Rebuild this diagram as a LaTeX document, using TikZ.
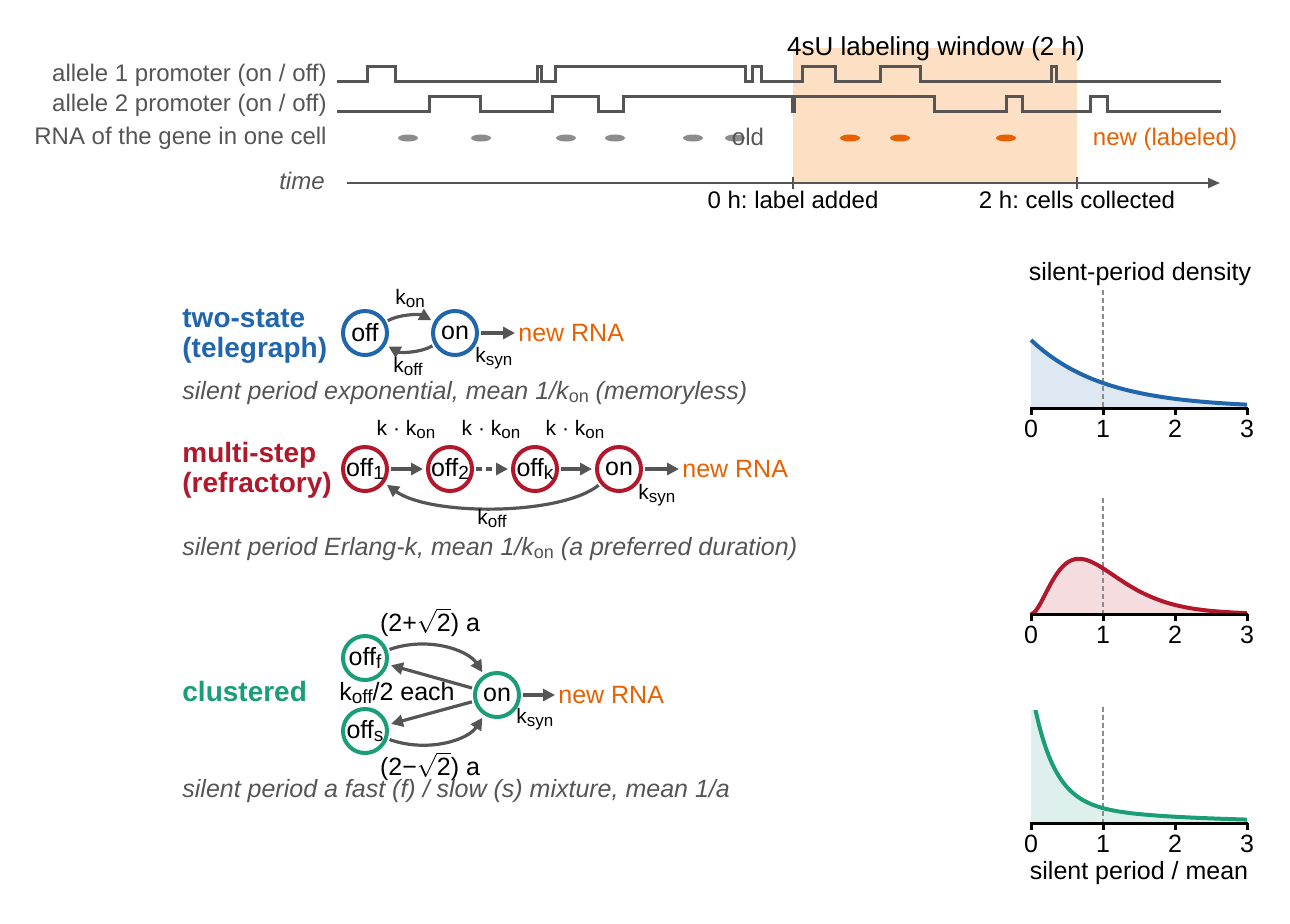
\documentclass[tikz,border=0pt]{standalone}
\usepackage{fontspec}
\setmainfont{Liberation Sans}
\usetikzlibrary{arrows.meta}
\definecolor{cblue}{HTML}{2166AC}
\definecolor{cred}{HTML}{B2182B}
\definecolor{cgreen}{HTML}{1B9E77}
\definecolor{corange}{HTML}{E66101}
\definecolor{cpeach}{HTML}{FDDFC4}
\definecolor{dgray}{HTML}{555555}
\definecolor{mgray}{HTML}{8C8C8C}
\newcommand{\mysub}[2][8.5]{\raisebox{-1.7pt}{\fontsize{#1}{#1}\selectfont #2}}
\frenchspacing
\begin{document}
\begin{tikzpicture}[x=0.5pt,y=-0.5pt,
  lab/.style={inner sep=0pt, font=\fontsize{12}{14}\selectfont},
  labb/.style={inner sep=0pt, font=\fontsize{12.5}{14}\selectfont},
  rate/.style={inner sep=0pt, font=\fontsize{10.5}{12}\selectfont},
  ttl/.style={inner sep=0pt, font=\fontsize{14}{16}\selectfont\bfseries},
  captxt/.style={inner sep=0pt, text=dgray, font=\fontsize{12.5}{14}\selectfont\itshape},
  stnode/.style={circle, draw=#1, line width=2pt, minimum size=22pt, inner sep=0pt, font=\fontsize{12.5}{14}\selectfont},
  arr/.style={draw=dgray, line width=1.6pt, -{Triangle[length=6pt,width=6pt]}, shorten >=1.5pt, shorten <=1pt},
  trace/.style={draw=dgray, line width=1.5pt},
  axl/.style={draw=black, line width=1.5pt},
  refl/.style={draw=mgray, line width=0.8pt, dash pattern=on 2.5pt off 1.5pt},
  dens/.style={line width=2pt},
  newrna/.style={inner sep=0pt, text=corange, font=\fontsize{12.5}{14}\selectfont}
]
\useasboundingbox (0,0) rectangle (1290,923);

% ---------------- top: labeling window ----------------
\fill[cpeach] (793,48) rectangle (1077,183);
\node[inner sep=0pt, font=\fontsize{13}{15}\selectfont, anchor=base] (win) at (936,55) {4sU labeling window (2 h)};

\node[lab, text=dgray, anchor=base east] (a1) at (327,81) {allele 1 promoter (on / off)};
\node[lab, text=dgray, anchor=base east] (a2) at (327,111) {allele 2 promoter (on / off)};
\node[lab, text=dgray, anchor=base east] (rn) at (327,144) {RNA of the gene in one cell};
\node[lab, text=dgray, anchor=base east, font=\fontsize{12}{14}\selectfont\itshape] (tm) at (325,189) {time};

\draw[trace] (337,81.5) -| (367,66) -| (395,81.5) -| (537,66) -| (541,81.5) -| (555,66) -| (745,81.5) -| (752,66) -| (761,81.5) -| (802,66) -| (835,81.5) -| (880,66) -| (920,81.5) -| (1051,66) -| (1056,81.5) -- (1221,81.5);
\draw[trace] (337,111.5) -| (429,96.5) -| (480,111.5) -| (552,96.5) -| (598,111.5) -| (623,96.5) -| (792,111.5) -| (794,96.5) -| (934,111.5) -| (1006,96.5) -| (1022,111.5) -| (1090,96.5) -| (1107,111.5) -- (1221,111.5);

\foreach \px in {408,481,566,615,693,735}
  \fill[mgray] (\px,138) ellipse [x radius=5pt, y radius=1.75pt];
\foreach \px in {850,900,1006}
  \fill[corange] (\px,138) ellipse [x radius=5pt, y radius=1.75pt];
\node[lab, text=dgray, anchor=base] (old) at (748,145) {old};
\node[lab, text=corange, anchor=base] (new) at (1165,145) {new (labeled)};

\coordinate (t0) at (347,183);
\coordinate (t1) at (1220,183);
\draw[dgray, line width=1pt, -{Triangle[length=6pt,width=5pt]}] (t0) -- (t1);
\coordinate (k0a) at (793,177); \coordinate (k0b) at (793,189);
\coordinate (k2a) at (1077,177); \coordinate (k2b) at (1077,189);
\draw[dgray, line width=1pt] (k0a) -- (k0b);
\draw[dgray, line width=1pt] (k2a) -- (k2b);
\node[lab, anchor=base] (l0) at (793,208) {0 h: label added};
\node[lab, anchor=base] (l2) at (1077,208) {2 h: cells collected};

% ---------------- two-state ----------------
\node[ttl, text=cblue, anchor=base west] (ts1) at (182,327) {two-state};
\node[ttl, text=cblue, anchor=base west] (ts2) at (182,357) {(telegraph)};
\node[stnode=cblue] (off) at (365,333) {off};
\node[stnode=cblue] (on) at (455,333) {on};
\draw[arr] (off) .. controls (400,314) and (420,314) .. (on);
\draw[arr] (on) .. controls (420,353) and (400,353) .. (off);
\node[newrna, anchor=west] (nA) at (518,333) {new RNA};
\draw[arr] (on) -- (nA);
\node[rate, anchor=base] (kon) at (410,304) {k\mysub{on}};
\node[rate, anchor=base] (koff) at (408,372) {k\mysub{off}};
\node[rate, anchor=base west] (ksA) at (475,362) {k\mysub{syn}};
\node[captxt, anchor=base west] (capA) at (182,399) {silent period exponential, mean 1/k\mysub[9]{\upshape on} (memoryless)};

% ---------------- multi-step ----------------
\node[ttl, text=cred, anchor=base west] (ms1) at (182,462) {multi-step};
\node[ttl, text=cred, anchor=base west] (ms2) at (182,492) {(refractory)};
\node[stnode=cred] (o1) at (365,469) {off\mysub[9.5]{1}};
\node[stnode=cred] (o2) at (450,469) {off\mysub[9.5]{2}};
\node[stnode=cred] (ok) at (535,469) {off\mysub[9.5]{k}};
\node[stnode=cred] (onB) at (619,469) {on};
\draw[arr] (o1) -- (o2);
\draw[arr, dash pattern=on 3pt off 2pt] (o2) -- (ok);
\draw[arr] (ok) -- (onB);
\node[newrna, anchor=west] (nB) at (682,469) {new RNA};
\draw[arr] (onB) -- (nB);
\draw[arr] (onB) .. controls (560,516) and (430,516) .. (o1);
\node[rate, anchor=base] (kk1) at (406,435) {k · k\mysub{on}};
\node[rate, anchor=base] (kk2) at (491,435) {k · k\mysub{on}};
\node[rate, anchor=base] (kk3) at (575,435) {k · k\mysub{on}};
\node[rate, anchor=base west] (ksB) at (638,499) {k\mysub{syn}};
\node[rate, anchor=base] (koffB) at (492,524) {k\mysub{off}};
\node[captxt, anchor=base west] (capB) at (182,555) {silent period Erlang-k, mean 1/k\mysub[9]{\upshape on} (a preferred duration)};

% ---------------- clustered ----------------
\node[ttl, text=cgreen, anchor=base west] (cl) at (182,701) {clustered};
\node[stnode=cgreen] (of) at (365,658) {off\mysub[9.5]{f}};
\node[stnode=cgreen] (os) at (365,731) {off\mysub[9.5]{s}};
\node[stnode=cgreen] (onC) at (497,695) {on};
\draw[arr] (of) .. controls (428,636) and (468,650) .. (onC);
\draw[arr] (onC) -- (of);
\draw[arr] (onC) -- (os);
\draw[arr] (os) .. controls (428,753) and (468,740) .. (onC);
\node[newrna, anchor=west] (nC) at (558,695) {new RNA};
\draw[arr] (onC) -- (nC);
\node[labb, anchor=base] (rp) at (430,631) {(2+$\sqrt{\mbox{2}}$) a};
\node[labb, anchor=base] (rm) at (430,775) {(2−$\sqrt{\mbox{2}}$) a};
\node[labb, anchor=base] (ke) at (397,700) {k\mysub[9.5]{off}/2 each};
\node[rate, anchor=base west] (ksC) at (516,723) {k\mysub{syn}};
\node[captxt, anchor=base west] (capC) at (182,797) {silent period a fast (f) / slow (s) mixture, mean 1/a};

% ---------------- density plots ----------------
\node[labb, anchor=base] (pt) at (1140,280) {silent-period density};

% plot 1
\fill[cblue!15] (1031,408) -- plot[domain=0:3,samples=90] ({1031+72*\x},{408-68*exp(-\x)}) -- (1247,408) -- cycle;
\draw[refl] (1103,290) -- (1103,408);
\draw[cblue, dens] plot[domain=0:3,samples=90] ({1031+72*\x},{408-68*exp(-\x)});
\draw[axl] (1030,408) -- (1248,408);
\foreach \i in {0,1,2,3} {
  \draw[axl] ({1031+72*\i},408) -- ({1031+72*\i},415);
  \node[labb, anchor=base] (pa\i) at ({1031+72*\i},437) {\i};
}

% plot 2
\fill[cred!15] (1031,614) -- plot[domain=0:3,samples=90] ({1031+72*\x},{614-68*13.5*\x*\x*exp(-3*\x)}) -- (1247,614) -- cycle;
\draw[refl] (1103,498) -- (1103,614);
\draw[cred, dens] plot[domain=0:3,samples=90] ({1031+72*\x},{614-68*13.5*\x*\x*exp(-3*\x)});
\draw[axl] (1030,614) -- (1248,614);
\foreach \i in {0,1,2,3} {
  \draw[axl] ({1031+72*\i},614) -- ({1031+72*\i},621);
  \node[labb, anchor=base] (pb\i) at ({1031+72*\i},643) {\i};
}

% plot 3
\begin{scope}
\clip (1020,710) rectangle (1260,830);
\fill[cgreen!15] (1031,823) -- plot[domain=0:3,samples=150] ({1031+72*\x},{823-68*(1.7071*exp(-3.4142*\x)+0.2929*exp(-0.5858*\x))}) -- (1247,823) -- cycle;
\end{scope}
\draw[refl] (1103,707) -- (1103,823);
\begin{scope}
\clip (1020,710) rectangle (1260,830);
\draw[cgreen, dens] plot[domain=0:3,samples=150] ({1031+72*\x},{823-68*(1.7071*exp(-3.4142*\x)+0.2929*exp(-0.5858*\x))});
\end{scope}
\draw[axl] (1030,823) -- (1248,823);
\foreach \i in {0,1,2,3} {
  \draw[axl] ({1031+72*\i},823) -- ({1031+72*\i},830);
  \node[labb, anchor=base] (pc\i) at ({1031+72*\i},852) {\i};
}
\node[labb, anchor=base] (xl) at (1139,879) {silent period / mean};
\end{tikzpicture}
\end{document}
